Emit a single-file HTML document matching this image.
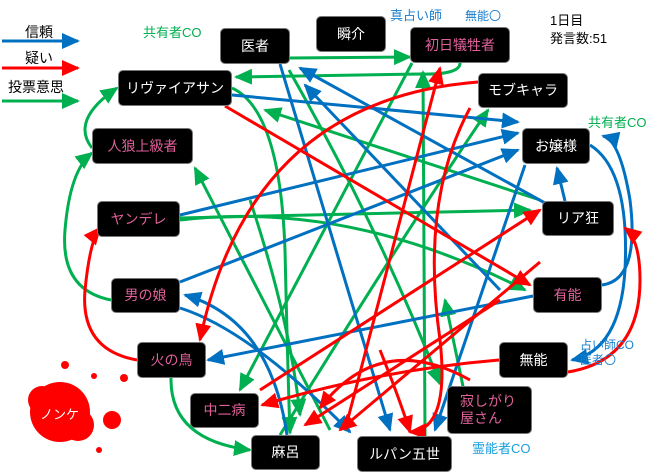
<!DOCTYPE html>
<html><head><meta charset="utf-8"><style>
body{margin:0;background:#fff;width:660px;height:474px;overflow:hidden;font-family:"Liberation Sans","Noto Sans CJK JP",sans-serif}
svg{position:absolute;left:0;top:0}
.n{position:absolute;background:#000;border-radius:5px;color:#fff;font-size:14px;display:flex;align-items:center;justify-content:center;border:1px solid #777;box-sizing:border-box;line-height:1.2}
.p{color:#e0609a}
.t{position:absolute;font-size:13px;white-space:nowrap}
</style></head><body>
<svg width="660" height="474" viewBox="0 0 660 474">
<defs>
<marker id="b" markerUnits="userSpaceOnUse" markerWidth="18" markerHeight="16" refX="16" refY="8" orient="auto"><path d="M0,0L18,8L0,16z" fill="#0070c0"/></marker>
<marker id="r" markerUnits="userSpaceOnUse" markerWidth="18" markerHeight="16" refX="16" refY="8" orient="auto"><path d="M0,0L18,8L0,16z" fill="#ff0000"/></marker>
<marker id="g" markerUnits="userSpaceOnUse" markerWidth="18" markerHeight="16" refX="16" refY="8" orient="auto"><path d="M0,0L18,8L0,16z" fill="#00b050"/></marker>
</defs>
<g fill="none" stroke-width="3">
<path d="M2,41H78" stroke="#0070c0" marker-end="url(#b)"/>
<path d="M2,68H78" stroke="#ff0000" marker-end="url(#r)"/>
<path d="M2,101H78" stroke="#00b050" marker-end="url(#g)"/>
<g stroke="#00b050" marker-end="url(#g)">
<path d="M289,58L410,57"/>
<path d="M460,63Q460,75 420,74L236,77"/>
<path d="M92,148Q70,120 117,88"/>
<path d="M111,300Q60,290 65,230Q70,170 92,153"/>
<path d="M171,378Q170,440 250,450"/>
<path d="M232,88Q280,110 285,250Q288,380 290,433"/>
<path d="M180,220Q350,200 525,290"/>
<path d="M180,218L530,210"/>
<path d="M330,430L195,168"/>
<path d="M425,436L423,72"/>
<path d="M280,435Q400,240 488,110"/>
<path d="M412,63L240,390"/>
<path d="M289,70Q380,230 440,384"/>
<path d="M470,420L445,300"/>
<path d="M540,200L265,110"/>
<path d="M250,200Q290,320 300,415"/>
</g>
<g stroke="#0070c0" marker-end="url(#b)">
<path d="M280,64L390,430"/>
<path d="M545,203L300,68"/>
<path d="M500,290L305,85"/>
<path d="M232,95L518,122"/>
<path d="M180,215L518,133"/>
<path d="M180,282L518,150"/>
<path d="M565,201L557,168"/>
<path d="M602,285Q640,280 630,200Q620,140 603,136"/>
<path d="M590,145Q630,170 625,270Q620,350 572,360"/>
<path d="M533,296L208,360"/>
<path d="M180,308Q250,330 350,432"/>
<path d="M287,435Q270,320 185,295"/>
<path d="M525,165L435,430"/>
</g>
<g stroke="#ff0000" marker-end="url(#r)">
<path d="M225,106L530,285"/>
<path d="M478,82Q250,100 200,340"/>
<path d="M470,108Q420,200 440,340Q450,430 410,432"/>
<path d="M345,430L440,68"/>
<path d="M137,360Q80,350 85,290Q90,240 100,228"/>
<path d="M499,360Q380,370 262,405"/>
<path d="M568,372Q640,360 640,280Q640,240 625,228"/>
<path d="M380,350Q400,400 410,432"/>
<path d="M260,390L540,210"/>
<path d="M500,300L305,425"/>
<path d="M470,380Q380,330 320,408"/>
<path d="M540,262L340,430"/>
</g>
</g>
<g fill="#f00">
<circle cx="60" cy="412" r="30"/><circle cx="42" cy="400" r="14"/><circle cx="78" cy="425" r="16"/><circle cx="112" cy="420" r="9"/><circle cx="124" cy="378" r="4"/><circle cx="65" cy="365" r="4"/><circle cx="94" cy="376" r="3"/><circle cx="99" cy="450" r="3"/>
</g>
</svg>
<div class="t" style="left:25px;top:22px;font-size:14px">信頼</div>
<div class="t" style="left:25px;top:48px;font-size:14px">疑い</div>
<div class="t" style="left:8px;top:77px;font-size:14px">投票意思</div>
<div class="t" style="left:143px;top:22px;color:#00b050">共有者CO</div>
<div class="t" style="left:390px;top:5px;color:#1a7fcf">真占い師</div>
<div class="t" style="left:465px;top:7px;color:#1a7fcf;font-size:12px">無能〇</div>
<div class="t" style="left:550px;top:12px;font-size:13px;line-height:18px">1日目<br>発言数:51</div>
<div class="t" style="left:588px;top:112px;color:#00b050">共有者CO</div>
<div class="t" style="left:580px;top:338px;color:#1a7fcf;font-size:12px;line-height:15px">占い師CO<br>医者〇</div>
<div class="t" style="left:472px;top:438px;color:#1a9fe0">霊能者CO</div>
<div class="t" style="left:40px;top:404px;color:#fff;font-size:13px">ノンケ</div>
<div class="n" style="left:220px;top:28px;width:70px;height:36px">医者</div>
<div class="n" style="left:316px;top:16px;width:70px;height:36px">瞬介</div>
<div class="n p" style="left:410px;top:27px;width:100px;height:36px">初日犠牲者</div>
<div class="n" style="left:478px;top:73px;width:90px;height:35px">モブキャラ</div>
<div class="n" style="left:522px;top:128px;width:68px;height:36px">お嬢様</div>
<div class="n" style="left:542px;top:201px;width:72px;height:35px">リア狂</div>
<div class="n p" style="left:533px;top:277px;width:69px;height:36px">有能</div>
<div class="n" style="left:499px;top:342px;width:69px;height:36px">無能</div>
<div class="n p" style="left:447px;top:386px;width:85px;height:48px;justify-content:flex-start;padding-left:12px">寂しがり<br>屋さん</div>
<div class="n" style="left:357px;top:436px;width:95px;height:36px">ルパン五世</div>
<div class="n" style="left:251px;top:435px;width:69px;height:35px">麻呂</div>
<div class="n p" style="left:190px;top:393px;width:69px;height:35px">中二病</div>
<div class="n p" style="left:137px;top:342px;width:69px;height:36px">火の鳥</div>
<div class="n p" style="left:111px;top:278px;width:69px;height:35px">男の娘</div>
<div class="n p" style="left:97px;top:201px;width:83px;height:36px">ヤンデレ</div>
<div class="n p" style="left:92px;top:128px;width:101px;height:36px">人狼上級者</div>
<div class="n" style="left:118px;top:70px;width:114px;height:36px">リヴァイアサン</div>
</body></html>
